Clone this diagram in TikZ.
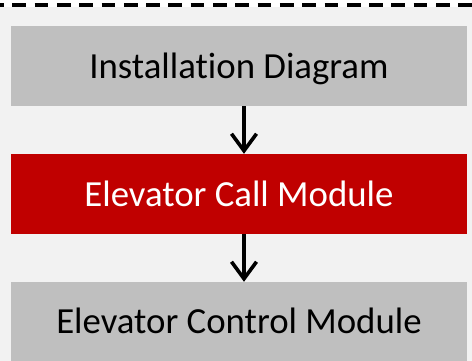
\documentclass[tikz,border=0pt]{standalone}
\usepackage{fontspec}
\setmainfont{Carlito}[Ligatures={NoCommon}]
\usetikzlibrary{arrows.meta}
\definecolor{bggray}{HTML}{F2F2F2}
\definecolor{boxgray}{HTML}{BFBFBF}
\definecolor{boxred}{HTML}{C00000}
\begin{document}
\begin{tikzpicture}[x=1pt,y=-1pt,
  box/.style={rectangle, minimum width=456pt, minimum height=80pt, inner sep=0pt, text height=26pt, text depth=0pt, font=\fontsize{36.8}{40}\selectfont},
  graybox/.style={box, fill=boxgray, text=black},
  redbox/.style={box, fill=boxred, text=white},
  flow/.style={line width=3.6pt, -{Straight Barb[length=17pt,width=25pt]}}]
\useasboundingbox (0,0) rectangle (472,361);
\fill[white] (0,0) rectangle (472,361);
\fill[bggray] (0,6.7) rectangle (472,361);
\draw[line width=3.3pt, dash pattern=on 13.7pt off 8.6pt, dash phase=10pt] (0,5) -- (472,5);
\node[graybox] (a) at (239,66) {Installation Diagram};
\node[redbox] (b) at (239,194) {Elevator Call Module};
\node[graybox, text height=22pt] (c) at (239,322) {Elevator Control Module};
\draw[flow] (a.south -| 244,0) -- (b.north -| 244,0);
\draw[flow] (b.south -| 244,0) -- (c.north -| 244,0);
\end{tikzpicture}
\end{document}
